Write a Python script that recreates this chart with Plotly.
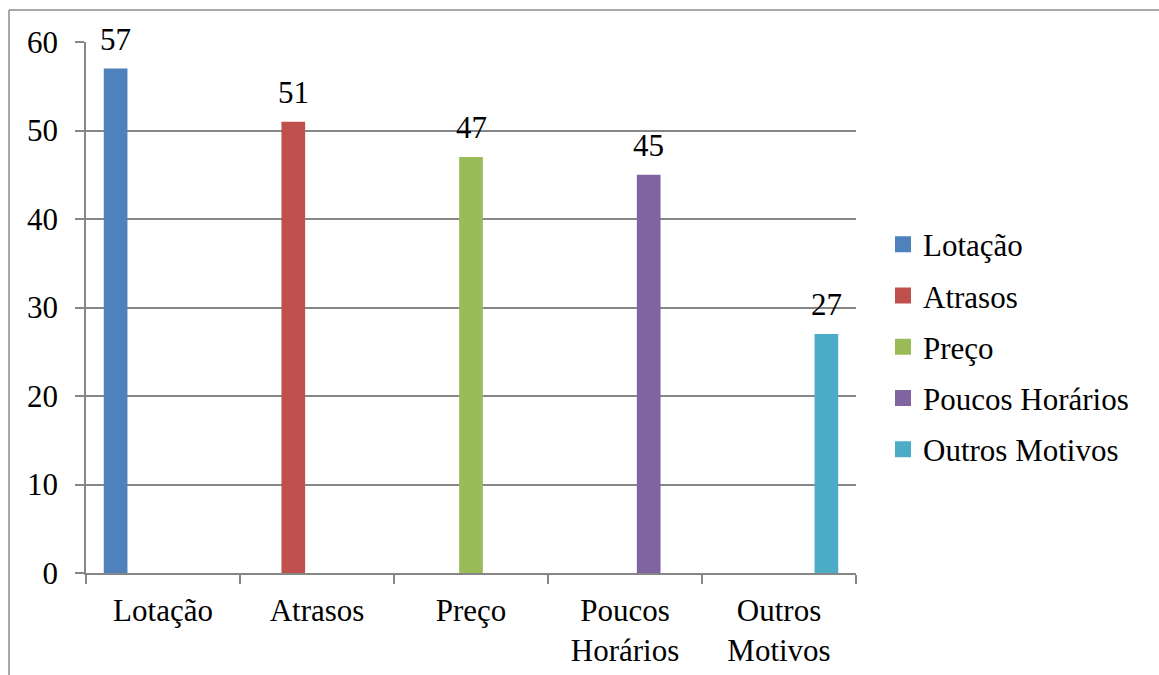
import plotly.graph_objects as go

categories = ["Lotação", "Atrasos", "Preço", "Poucos Horários", "Outros Motivos"]
tick_labels = ["Lotação", "Atrasos", "Preço", "Poucos<br>Horários", "Outros<br>Motivos"]
values = [57, 51, 47, 45, 27]
colors = ["#4F81BD", "#C0504D", "#9BBB59", "#8064A2", "#4BACC6"]

W, H = 1159, 675
ML, MR, MT, MB = 86, 303, 42, 102
PW, PH = W - ML - MR, H - MT - MB
FONT = "Liberation Serif, Times New Roman, serif"
FS = 31
GRAY = "#868686"
BARGAP = 1.5 / 6.5
N = len(categories)
BAR_W = PW / N * (1 - BARGAP) / N

fig = go.Figure()
for i, name in enumerate(categories):
    ys = [values[i] if j == i else None for j in range(N)]
    fig.add_trace(go.Bar(
        x=categories, y=ys, name=name,
        marker=dict(color=colors[i], line=dict(width=0)),
        showlegend=False, hovertemplate="%{x}: %{y}<extra></extra>",
    ))
    fig.add_annotation(
        x=categories[i], y=values[i], xref="x", yref="y",
        text=str(values[i]), showarrow=False,
        xanchor="center", yanchor="bottom",
        xshift=(i - (N - 1) / 2) * BAR_W, yshift=10,
        font=dict(family=FONT, size=FS, color="black"),
    )
# legend entries (square swatches)
for i, name in enumerate(categories):
    fig.add_trace(go.Scatter(
        x=[None], y=[None], mode="markers", name=name,
        marker=dict(symbol="square", size=16, color=colors[i], line=dict(width=0)),
        legendgroup=name, showlegend=True, hoverinfo="skip",
    ))

def px_x(px):
    return (px - ML) / PW

def px_y(py):
    return (H - MB - py) / PH

fig.update_layout(
    width=W, height=H,
    margin=dict(l=ML, r=MR, t=MT, b=MB, pad=0),
    paper_bgcolor="white", plot_bgcolor="white",
    barmode="group", bargap=BARGAP, bargroupgap=0,
    font=dict(family=FONT, size=FS, color="black"),
    showlegend=True,
    legend=dict(
        x=px_x(883), xanchor="left", y=px_y(347), yanchor="middle",
        font=dict(family=FONT, size=FS, color="black"),
        traceorder="grouped", tracegroupgap=8, itemwidth=30,
        bgcolor="rgba(0,0,0,0)",
    ),
    xaxis=dict(
        tickmode="array", tickvals=categories, ticktext=tick_labels,
        showline=True, linecolor=GRAY, linewidth=1.5,
        ticks="outside", tickson="boundaries", ticklen=9, tickcolor=GRAY, tickwidth=1.5,
        ticklabelstandoff=9, automargin=False,
        showgrid=False, tickfont=dict(family=FONT, size=FS, color="black"),
        fixedrange=True,
    ),
    yaxis=dict(
        range=[0, 60], dtick=10, tick0=0,
        showline=True, linecolor=GRAY, linewidth=1.5,
        ticks="outside", ticklen=9, tickcolor=GRAY, tickwidth=1.5,
        ticklabelstandoff=11, automargin=False,
        showgrid=True, gridcolor=GRAY, gridwidth=1.5,
        zeroline=False,
        tickfont=dict(family=FONT, size=FS, color="black"),
        fixedrange=True,
    ),
    shapes=[
        dict(type="line", xref="paper", yref="paper",
             x0=px_x(9), x1=px_x(9), y0=px_y(10), y1=px_y(H + 10),
             line=dict(color="#8C8C8C", width=1.5)),
        dict(type="line", xref="paper", yref="paper",
             x0=px_x(9), x1=px_x(W + 10), y0=px_y(10), y1=px_y(10),
             line=dict(color="#8C8C8C", width=1.5)),
    ],
)

fig.write_html("out.html")
